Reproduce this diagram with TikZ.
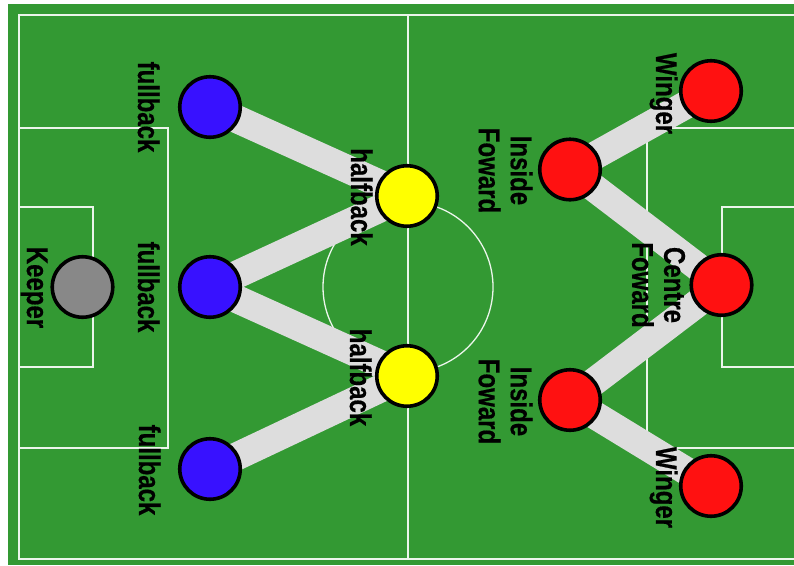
\documentclass[tikz,border=0pt]{standalone}
\usepackage{fontspec}
\newfontfamily\labfont{Liberation Sans}[FakeStretch=0.8, BoldFeatures={FakeBold=0.5}]
\definecolor{fieldgreen}{RGB}{51,153,51}
\definecolor{bandgray}{RGB}{221,221,221}
\definecolor{pblue}{RGB}{56,17,255}
\definecolor{pred}{RGB}{255,17,17}
\definecolor{pyellow}{RGB}{255,255,0}
\definecolor{pgray}{RGB}{136,136,136}
\definecolor{linewhite}{RGB}{235,245,235}
\pgfdeclarelayer{field}
\pgfdeclarelayer{bands}
\pgfsetlayers{field,bands,main}
\tikzset{
  pitch/.style={draw=linewhite, line width=1.3pt},
  player/.style={circle, draw=black, line width=3.6pt, minimum size=60.5pt, inner sep=0pt},
  band/.style={draw=bandgray, line width=28pt, line cap=butt},
  lab/.style={font=\labfont\bfseries\fontsize{30}{32}\selectfont, rotate=-90, inner sep=0pt, text=black},
}
\begin{document}
\begin{tikzpicture}[x=1pt,y=-1pt]
\useasboundingbox (0,0) rectangle (794,565);
\begin{pgfonlayer}{field}
\fill[fieldgreen] (8,4) rectangle (794,565);
\draw[pitch] (794,15) -- (19,15) -- (19,559) -- (794,559);
\draw[pitch] (408,15) -- (408,559);
\draw[pitch] (19,128) -- (168,128) -- (168,448) -- (19,448);
\draw[pitch] (19,207) -- (93,207) -- (93,367) -- (19,367);
\draw[pitch] (794,128) -- (647,128) -- (647,448) -- (794,448);
\draw[pitch] (794,207) -- (722,207) -- (722,367) -- (794,367);
\draw[pitch] (408,287) circle[radius=85pt];
\end{pgfonlayer}

% players
\node[player, fill=pgray]   (keeper) at (82.5,287) {};
\node[player, fill=pblue]   (fb1) at (210,107) {};
\node[player, fill=pblue]   (fb2) at (210,287) {};
\node[player, fill=pblue]   (fb3) at (210,469) {};
\node[player, fill=pyellow] (hb1) at (407,196) {};
\node[player, fill=pyellow] (hb2) at (407,376) {};
\node[player, fill=pred]    (if1) at (570,169.5) {};
\node[player, fill=pred]    (if2) at (570,400) {};
\node[player, fill=pred]    (w1)  at (711,91) {};
\node[player, fill=pred]    (w2)  at (711,486) {};
\node[player, fill=pred]    (cf)  at (721.5,285) {};

% bands
\begin{pgfonlayer}{bands}
\draw[band] (fb1.center) -- (hb1.center);
\draw[band] (hb1.center) -- (fb2.center);
\draw[band] (fb2.center) -- (hb2.center);
\draw[band] (hb2.center) -- (fb3.center);
\draw[band] (w1.center) -- (if1.center);
\draw[band] (if1.center) -- (cf.center);
\draw[band] (cf.center) -- (if2.center);
\draw[band] (if2.center) -- (w2.center);
\end{pgfonlayer}

% labels
\node[lab, anchor=base] (lkeeper) at (27,287.5) {Keeper};
\node[lab, anchor=base] (lfb1) at (138,107) {fullback};
\node[lab, anchor=base] (lfb2) at (138,287) {fullback};
\node[lab, anchor=base] (lfb3) at (139,470) {fullback};
\node[lab, anchor=base] (lhb1) at (351,197) {halfback};
\node[lab, anchor=base] (lhb2) at (350,377.5) {halfback};
\node[lab, anchor=base] (lw1) at (656,93.5) {Winger};
\node[lab, anchor=base] (lw2) at (656,487.5) {Winger};
\node[lab, align=center] (lif1) at (505.5,170.5) {Inside\\Foward};
\node[lab, align=center] (lif2) at (505.5,401.5) {Inside\\Foward};
\node[lab, align=center] (lcf) at (658.5,285) {Centre\\Foward};
\end{tikzpicture}
\end{document}
